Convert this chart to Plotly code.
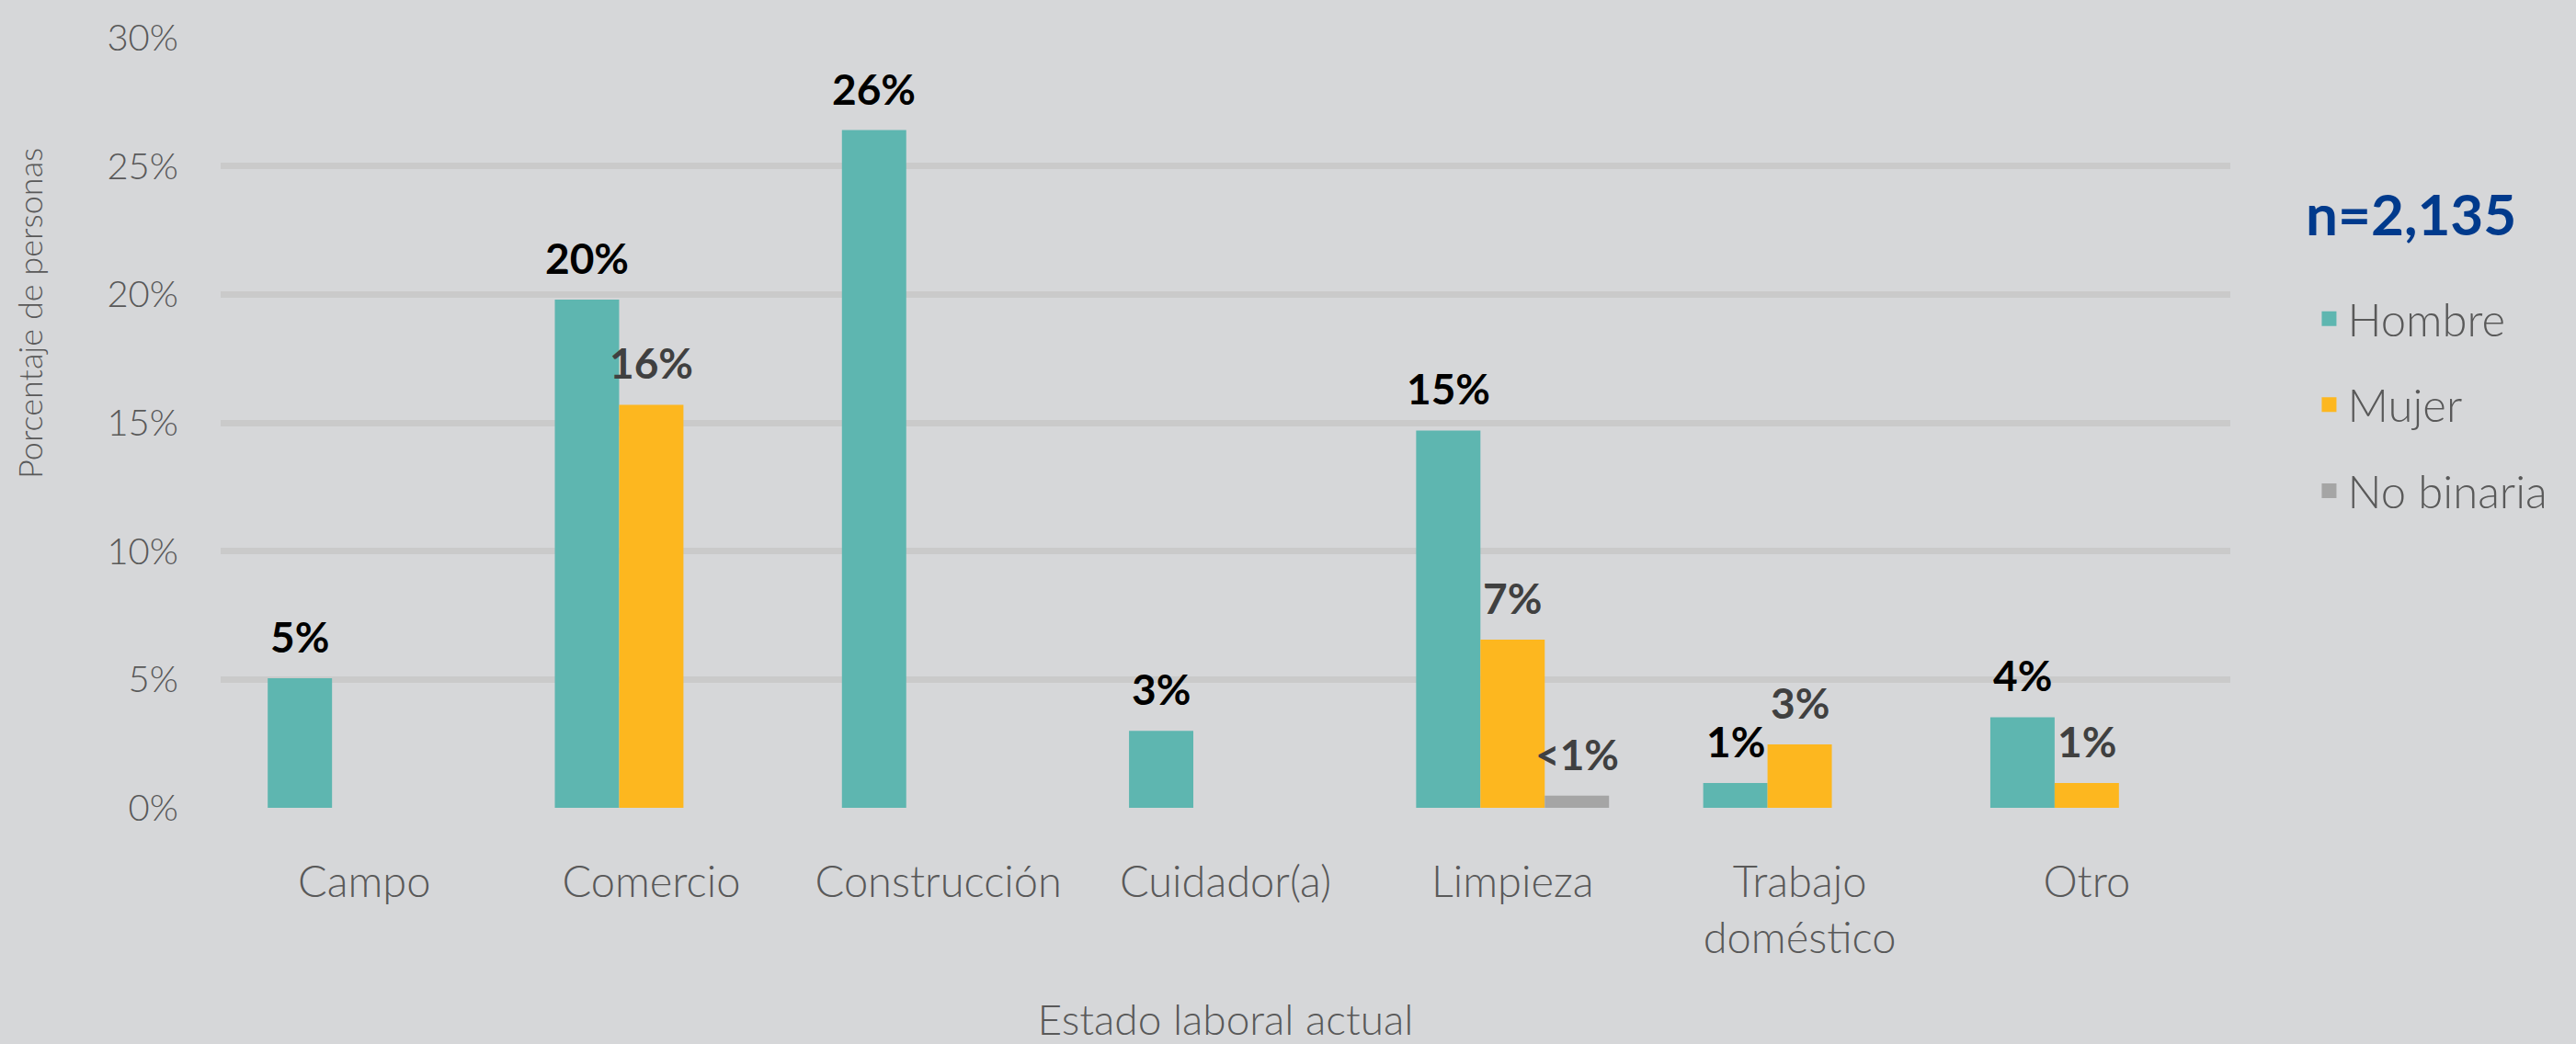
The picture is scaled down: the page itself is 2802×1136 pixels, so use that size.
import plotly.graph_objects as go

categories = ["Campo", "Comercio", "Construcción", "Cuidador(a)", "Limpieza", "Trabajo<br>doméstico", "Otro"]
hombre = [5.05, 19.8, 26.4, 3.0, 14.7, 0.97, 3.53]
mujer = [None, 15.7, None, None, 6.55, 2.47, 0.97]
no_binaria = [None, None, None, None, 0.47, None, None]
hombre_labels = ["5%", "20%", "26%", "3%", "15%", "1%", "4%"]
mujer_labels = [None, "16%", None, None, "7%", "3%", "1%"]
nb_labels = [None, None, None, None, "<1%", None, None]
y_ticks = [0, 5, 10, 15, 20, 25, 30]

W, H = 2802, 1136
ML, MR, MT, MB = 240, 376, 41, 257
BARGAP = 0.328
FONT = "Lato"
BG = "#D6D7D9"
TXT = "#595959"

series = [
    ("Hombre", hombre, hombre_labels, "#5EB6B0", "#000000"),
    ("Mujer", mujer, mujer_labels, "#FDB71F", "#404040"),
    ("No binaria", no_binaria, nb_labels, "#A5A5A5", "#404040"),
]

fig = go.Figure()
for i, (name, vals, _, color, _) in enumerate(series):
    fig.add_trace(go.Bar(
        x=categories, y=vals, name=name, marker_color=color,
        marker_line_width=0, legendgroup=name, showlegend=False,
    ))
# legend entries with larger square swatches
for i, (name, vals, _, color, _) in enumerate(series):
    fig.add_trace(go.Scatter(
        x=[None], y=[None], mode="markers", name=name, legendgroup=name,
        marker=dict(symbol="square", size=33, color=color, line=dict(width=0)),
        showlegend=True, hoverinfo="skip",
    ))

plot_w = W - ML - MR
bar_px = plot_w / len(categories) * (1 - BARGAP) / len(series)
annotations = []
for k, (name, vals, labels, color, tcolor) in enumerate(series):
    for c, v, lab in zip(categories, vals, labels):
        if v is None or lab is None:
            continue
        annotations.append(dict(
            x=c, y=v, xref="x", yref="y", text=lab, showarrow=False,
            xanchor="center", yanchor="bottom", xshift=(k - 1) * bar_px, yshift=16,
            font=dict(family=FONT, size=46, color=tcolor, weight="bold"),
        ))

annotations.append(dict(
    x=1.09, y=0.772, xref="paper", yref="paper", text="<b>n=2,135</b>",
    showarrow=False, xanchor="center", yanchor="middle",
    font=dict(family=FONT, size=62, color="#003A8C"),
))
annotations.append(dict(
    x=-0.0952, y=0.642, xref="paper", yref="paper", text="Porcentaje de personas",
    showarrow=False, xanchor="center", yanchor="middle", textangle=-90,
    font=dict(family=FONT, size=36, color=TXT, weight=300),
))

fig.update_layout(
    width=W, height=H,
    margin=dict(l=ML, r=MR, t=MT, b=MB, pad=0, autoexpand=False),
    paper_bgcolor=BG, plot_bgcolor=BG,
    barmode="group", bargap=BARGAP, bargroupgap=0,
    font=dict(family=FONT, color=TXT, weight=300),
    showlegend=True,
    legend=dict(
        x=1.04, y=0.681, xanchor="left", yanchor="top",
        font=dict(family=FONT, size=49, color=TXT, weight=300),
        bgcolor="rgba(0,0,0,0)", tracegroupgap=27, itemsizing="trace",
    ),
    annotations=annotations,
    xaxis=dict(
        showgrid=False, showline=False, zeroline=False, ticks="",
        automargin=False,
        tickfont=dict(family=FONT, size=47, color=TXT, weight=300),
        ticklabelstandoff=49,
        title=dict(text="Estado laboral actual", standoff=64,
                   font=dict(family=FONT, size=46, color=TXT, weight=300)),
    ),
    yaxis=dict(
        range=[0, 30], tickvals=y_ticks, ticktext=[f"{t}%" for t in y_ticks],
        showgrid=True, gridcolor="#CACACA", gridwidth=7,
        zeroline=False, showline=False, ticks="", automargin=False,
        tickfont=dict(family=FONT, size=40, color=TXT, weight=300),
        ticklabelstandoff=45,
    ),
)

fig.write_html("out.html", config={"displayModeBar": False},
               post_script="document.body.style.margin='0';")
